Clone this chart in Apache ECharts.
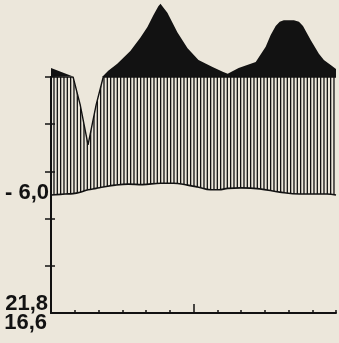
<!DOCTYPE html>
<html>
<head>
<meta charset="utf-8">
<script src="https://cdn.jsdelivr.net/npm/echarts@6/dist/echarts.min.js"></script>
<style>
  html, body { margin: 0; padding: 0; background: #ece7db; }
  #chart { width: 339px; height: 343px; }
</style>
</head>
<body>
<div id="chart"></div>
<script>
// Seasonal profile: months 0..12 along x, level units on y.

// Sampling positions (months) for the hatched band
const bandMonths = [0, 0.59, 0.93, 1.23, 1.56, 1.90, 2.20, 2.70, 3.25, 3.85, 4.61, 5.15,
                    5.75, 6.17, 6.72, 7.06, 7.44, 7.99, 8.79, 9.63, 10.48, 11.62, 12];
// Top edge of the hatched band (with the early-season dip)
const bandUpper = [5.0, 5.0, 5.0, 4.41, 3.56, 4.41, 5.0, 5.0, 5.0, 5.0, 5.0, 5.0,
                   5.0, 5.0, 5.0, 5.0, 5.0, 5.0, 5.0, 5.0, 5.0, 5.0, 5.0];
// Bottom edge of the hatched band
const bandLower = [2.50, 2.52, 2.53, 2.56, 2.61, 2.64, 2.67, 2.71, 2.73, 2.72, 2.75, 2.75,
                   2.71, 2.67, 2.61, 2.61, 2.64, 2.65, 2.63, 2.56, 2.52, 2.52, 2.50];

// Solid crest above the reference level (5.0); null marks the gap over the dip
const crestMonths = [0, 0.93, 0.97, 1.5, 2.15, 2.41, 2.79, 3.34, 3.76, 4.06, 4.31, 4.52, 4.61, 4.69,
                     4.90, 5.32, 5.75, 6.21, 6.80, 7.23, 7.44, 7.90, 8.62, 9.04, 9.25, 9.46,
                     9.63, 9.80, 10.23, 10.44, 10.61, 10.94, 11.28, 11.49, 11.79, 12];
const crestValues = [5.19, 5.01, 5.0, null, 5.0, 5.13, 5.28, 5.55, 5.83, 6.06, 6.31, 6.50, 6.55, 6.50,
                     6.36, 5.95, 5.61, 5.36, 5.21, 5.11, 5.07, 5.19, 5.32, 5.64, 5.89, 6.08,
                     6.17, 6.20, 6.20, 6.17, 6.08, 5.78, 5.49, 5.36, 5.25, 5.17];
const referenceLevel = 5.0;

// Text drawn beside the left axis
const sideLabels = ['- 6,0', '21,8', '16,6'];

const INK = '#121212';
const PAPER = '#ece7db';

// Vertical hatching tile
function hatchTile() {
  const c = document.createElement('canvas');
  c.width = 10; c.height = 4;
  const g = c.getContext('2d');
  g.fillStyle = INK;
  [0, 3.33, 6.67].forEach(function (x) { g.fillRect(x, 0, 1.3, 4); });
  return c;
}

const upperData = bandMonths.map((m, i) => [m, bandUpper[i]]);
const lowerData = bandMonths.map((m, i) => [m, bandLower[i]]);
const crestData = crestMonths.map((m, i) => [m, crestValues[i] === null ? '-' : crestValues[i]]);

const chart = echarts.init(document.getElementById('chart'), null, { renderer: 'canvas' });

const labelFont = 'bold 22px "Liberation Sans", Arial, sans-serif';

const axisBase = { axisLabel: { show: false }, splitLine: { show: false }, z: 10 };

chart.setOption({
  backgroundColor: PAPER,
  animation: false,
  grid: { left: 51, right: 3, top: 77, bottom: 30 },
  xAxis: [
    Object.assign({}, axisBase, {
      type: 'value', min: 0, max: 12, interval: 1,
      axisLine: { show: true, lineStyle: { color: INK, width: 2 } },
      axisTick: { show: true, inside: true, length: 3, lineStyle: { color: INK, width: 1.5 } }
    }),
    Object.assign({}, axisBase, {
      type: 'value', min: 0, max: 12, interval: 6, position: 'bottom',
      axisLine: { show: false },
      axisTick: { show: true, inside: true, length: 9, customValues: [6], lineStyle: { color: INK, width: 1.5 } }
    })
  ],
  yAxis: [
    Object.assign({}, axisBase, {
      type: 'value', min: 0, max: 5, interval: 1, position: 'left',
      axisLine: { show: true, lineStyle: { color: INK, width: 2 } },
      axisTick: { show: true, inside: false, length: 6, customValues: [1, 2, 3, 4, 5], lineStyle: { color: INK, width: 1.5 } }
    }),
    Object.assign({}, axisBase, {
      type: 'value', min: 0, max: 5, interval: 1, position: 'right',
      axisLine: { show: true, lineStyle: { color: INK, width: 1.6 } },
      axisTick: { show: true, inside: false, length: 4, customValues: [1, 2, 3, 4], lineStyle: { color: INK, width: 1.5 } }
    })
  ],
  series: [
    {
      name: 'crest', type: 'line', data: crestData, clip: false, connectNulls: false,
      showSymbol: false, symbol: 'none', z: 1,
      lineStyle: { width: 0 },
      areaStyle: { color: INK, opacity: 1, origin: referenceLevel }
    },
    {
      // hatched band filled down to the axis, then masked below its lower edge
      name: 'band', type: 'line', data: upperData,
      showSymbol: false, symbol: 'none', smooth: false, z: 2,
      lineStyle: { color: INK, width: 1.4 },
      areaStyle: { color: { image: hatchTile(), repeat: 'repeat' }, opacity: 1, origin: 'start' }
    },
    {
      name: 'lower', type: 'line', data: lowerData,
      showSymbol: false, symbol: 'none', smooth: 0.4, z: 3,
      lineStyle: { color: INK, width: 1.6 },
      areaStyle: { color: PAPER, opacity: 1, origin: 'start' }
    }
  ],
  graphic: [
    { type: 'text', style: { text: sideLabels[0], x: 49, y: 193, align: 'right', verticalAlign: 'middle', font: labelFont, fill: INK } },
    { type: 'text', style: { text: sideLabels[1], x: 48, y: 304, align: 'right', verticalAlign: 'middle', font: labelFont, fill: INK } },
    { type: 'text', style: { text: sideLabels[2], x: 47, y: 323, align: 'right', verticalAlign: 'middle', font: labelFont, fill: INK } }
  ]
});
</script>
</body>
</html>
